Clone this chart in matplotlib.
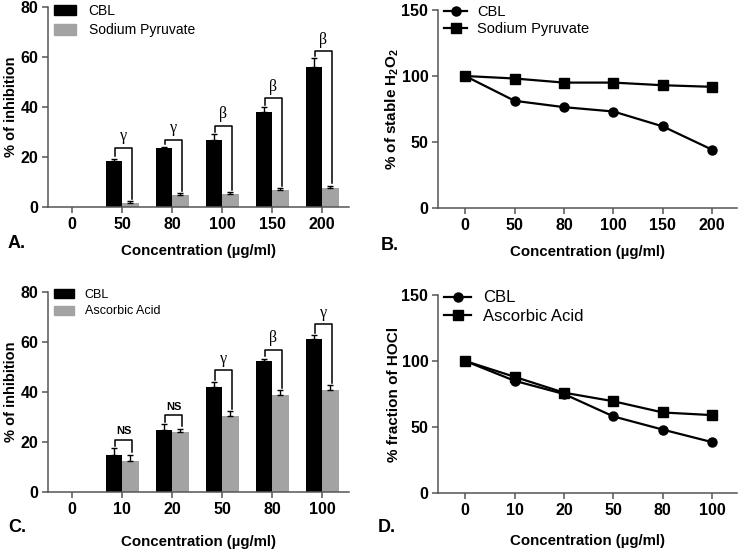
import numpy as np
import matplotlib.pyplot as plt
from matplotlib.patches import Patch
from matplotlib.lines import Line2D

plt.rcParams['font.family'] = ['Liberation Sans', 'DejaVu Sans']
plt.rcParams['mathtext.fontset'] = 'custom'
plt.rcParams['mathtext.bf'] = 'Liberation Sans:bold'
plt.rcParams['mathtext.rm'] = 'Liberation Sans:bold'

# ---- data ----
conc_a = ['0', '50', '80', '100', '150', '200']
cbl_a = [0, 18.6, 23.5, 26.8, 38.0, 56.2]
cbl_a_err = [0, 0.8, 0.7, 2.3, 1.9, 3.3]
sp_a = [0, 1.6, 4.7, 5.1, 6.8, 7.7]
sp_a_err = [0, 0.7, 0.8, 0.8, 0.8, 0.8]
sig_a = ['', 'γ', 'γ', 'β', 'β', 'β']
sig_a_top = [0, 23.8, 27.0, 32.6, 43.5, 62.6]

cbl_b = [100, 81.2, 76.4, 73.1, 61.8, 44.1]
sp_b = [100, 98.1, 95.0, 95.0, 93.0, 91.8]

conc_c = ['0', '10', '20', '50', '80', '100']
cbl_c = [0, 14.8, 25.0, 42.0, 52.3, 61.3]
cbl_c_err = [0, 2.7, 2.2, 2.0, 1.0, 1.4]
aa_c = [0, 12.4, 24.0, 30.6, 39.0, 41.0]
aa_c_err = [0, 2.5, 1.3, 1.7, 1.7, 1.7]
sig_c = ['', 'NS', 'NS', 'γ', 'β', 'γ']
sig_c_top = [0, 21.0, 31.0, 48.7, 57.0, 67.1]

cbl_d = [100, 85, 75, 58, 48, 38.5]
aa_d = [100, 88, 76, 69.5, 61, 59]

GRAY = '#a3a3a3'
SPINE = '#555555'
W = 0.33


def style(ax):
    for s in ['top', 'right']:
        ax.spines[s].set_visible(False)
    for s in ['left', 'bottom']:
        ax.spines[s].set_color(SPINE)
        ax.spines[s].set_linewidth(1.1)
    ax.tick_params(direction='out', length=4, width=1.1, color=SPINE,
                   labelsize=11.5, pad=3)
    for lab in ax.get_xticklabels() + ax.get_yticklabels():
        lab.set_fontweight('bold')


def bar_panel(ax, cats, v1, e1, v2, e2, sig, tops, name2, leg_size, xpad):
    x = np.arange(len(cats))
    ax.bar(x - W / 2, v1, W, color='black', zorder=2)
    ax.bar(x + W / 2, v2, W, color=GRAY, zorder=2)
    for i in range(len(cats)):
        if v1[i] == 0:
            continue
        ax.errorbar(x[i] - W / 2, v1[i], yerr=[[0], [e1[i]]], color='black',
                    capsize=2.5, elinewidth=1, capthick=1, zorder=3)
        ax.errorbar(x[i] + W / 2, v2[i], yerr=[[0], [e2[i]]], color='black',
                    capsize=2.5, elinewidth=1, capthick=1, zorder=3)
        xl, xr = x[i] - W / 2 + 0.03, x[i] + W / 2 + 0.03
        yl = v1[i] + e1[i] + 1.0
        yr = v2[i] + e2[i] + 1.0
        ax.plot([xl, xl, xr, xr], [yl, tops[i], tops[i], yr], color='black',
                lw=1.1, zorder=3)
        if sig[i] == 'NS':
            ax.text((xl + xr) / 2, tops[i] + 1.2, sig[i], ha='center',
                    va='bottom', fontsize=8, fontweight='bold')
        else:
            ax.text((xl + xr) / 2, tops[i] + 1.2, sig[i], ha='center',
                    va='bottom', fontsize=11.5,
                    family=['Liberation Serif', 'DejaVu Serif'])
    ax.set_xticks(x)
    ax.set_xticklabels(cats)
    ax.set_xlim(-0.48, 5.54)
    ax.set_ylim(0, 80)
    ax.set_yticks([0, 20, 40, 60, 80])
    ax.set_ylabel('% of inhibition', fontsize=10.5, fontweight='bold',
                  labelpad=2)
    ax.set_xlabel('Concentration (µg/ml)', fontsize=10.8, fontweight='bold',
                  labelpad=xpad)
    handles = [Patch(color='black'), Patch(color=GRAY)]
    ax.legend(handles, ['CBL', name2], loc='upper left', frameon=False,
              fontsize=leg_size, handlelength=1.6, handleheight=0.75,
              borderaxespad=0.1, borderpad=0.1, labelspacing=0.4,
              handletextpad=0.9, bbox_to_anchor=(0.01, 1.03))
    style(ax)


def line_panel(ax, cats, v1, v2, name2, ylabel, leg_size, xpad):
    x = np.arange(len(cats))
    ax.plot(x, v1, color='black', marker='o', ms=6.5, lw=1.6)
    ax.plot(x, v2, color='black', marker='s', ms=6.5, lw=1.6)
    ax.set_xticks(x)
    ax.set_xticklabels(cats)
    ax.set_xlim(-0.55, 5.5)
    ax.set_ylim(0, 150)
    ax.set_yticks([0, 50, 100, 150])
    ax.set_ylabel(ylabel, fontsize=11, fontweight='bold', labelpad=0)
    ax.set_xlabel('Concentration (µg/ml)', fontsize=10.8, fontweight='bold',
                  labelpad=xpad)
    handles = [Line2D([], [], color='black', marker='o', ms=6.5, lw=1.6),
               Line2D([], [], color='black', marker='s', ms=6.5, lw=1.6)]
    ax.legend(handles, ['CBL', name2], loc='upper left', frameon=False,
              fontsize=leg_size, handlelength=1.6, borderaxespad=0.1,
              borderpad=0.1, labelspacing=0.2, handletextpad=0.7,
              bbox_to_anchor=(0.01, 1.04))
    style(ax)


fig = plt.figure(figsize=(7.4, 5.5), dpi=100)
axA = fig.add_axes([48 / 740, 1 - 207 / 550, 301 / 740, 200 / 550])
axB = fig.add_axes([438 / 740, 1 - 208 / 550, 299 / 740, 198 / 550])
axC = fig.add_axes([48 / 740, 1 - 492 / 550, 301 / 740, 200 / 550])
axD = fig.add_axes([438 / 740, 1 - 493 / 550, 299 / 740, 198 / 550])

bar_panel(axA, conc_a, cbl_a, cbl_a_err, sp_a, sp_a_err, sig_a, sig_a_top,
          'Sodium Pyruvate', 10, 9)
bar_panel(axC, conc_c, cbl_c, cbl_c_err, aa_c, aa_c_err, sig_c, sig_c_top,
          'Ascorbic Acid', 9, 13)
line_panel(axB, conc_a, cbl_b, sp_b, 'Sodium Pyruvate',
           r'% of stable H$_\mathbf{2}$O$_\mathbf{2}$', 10.5, 9)
line_panel(axD, conc_c, cbl_d, aa_d, 'Ascorbic Acid', '% fraction of HOCl',
           12, 12)

fig.text(8 / 740, 1 - 243 / 550, 'A.', fontsize=13, fontweight='bold',
         va='center')
fig.text(381 / 740, 1 - 245 / 550, 'B.', fontsize=13, fontweight='bold',
         va='center')
fig.text(8 / 740, 1 - 527 / 550, 'C.', fontsize=13, fontweight='bold',
         va='center')
fig.text(378 / 740, 1 - 527 / 550, 'D.', fontsize=13, fontweight='bold',
         va='center')

fig.savefig('out.png', dpi=100)
